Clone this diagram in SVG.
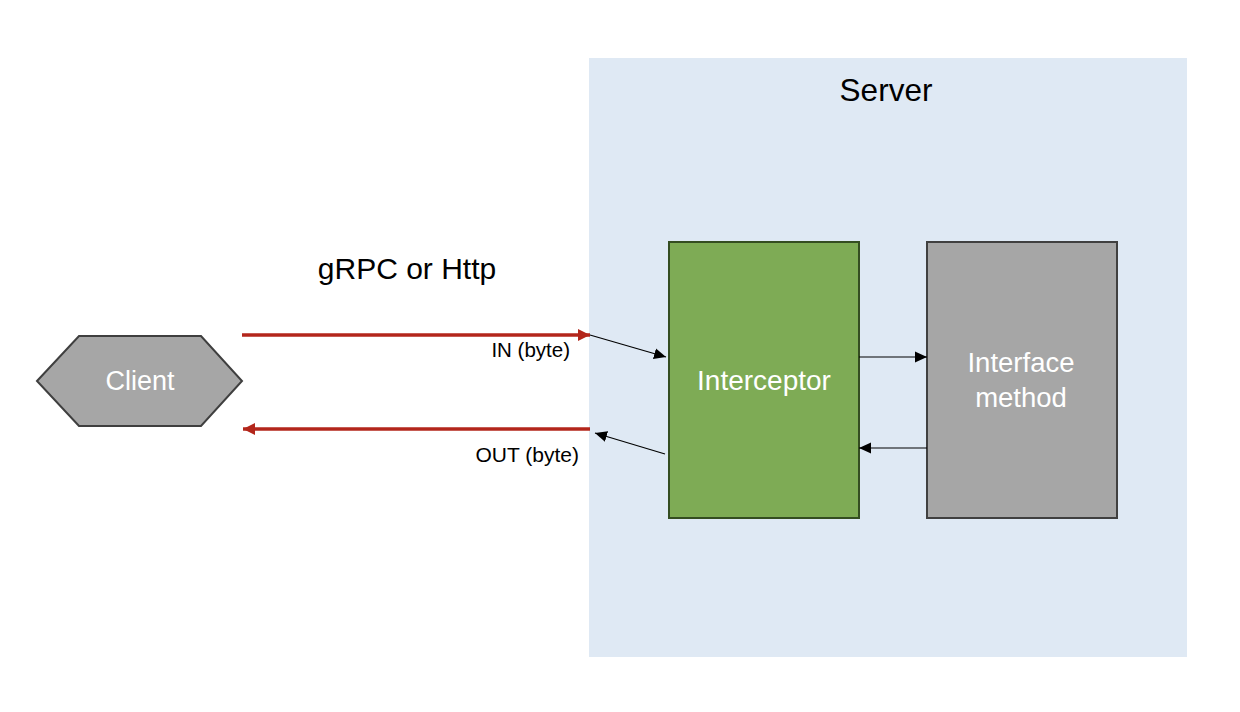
<svg xmlns="http://www.w3.org/2000/svg" width="1240" height="712" viewBox="0 0 1240 712">
<style>
  text { font-family: "Liberation Sans", Arial, sans-serif; }
  .white { fill: #ffffff; }
  .black { fill: #000000; }
  .red { stroke: #b3261b; stroke-width: 3.5; fill: none; }
  .thin { stroke: #000000; stroke-width: 1.2; fill: none; }
</style>
<defs>
  <marker id="redHead" markerUnits="userSpaceOnUse" markerWidth="14" markerHeight="12" refX="12" refY="6" orient="auto">
    <path d="M0,0 L12,6 L0,12 Z" fill="#b3261b"/>
  </marker>
  <marker id="blackHead" markerUnits="userSpaceOnUse" markerWidth="14" markerHeight="12" refX="12" refY="6" orient="auto">
    <path d="M0,0.5 L12,6 L0,11.5 Z" fill="#000000"/>
  </marker>
</defs>
<rect width="1240" height="712" fill="#ffffff"/>

<g id="server">
  <rect x="589" y="58" width="598" height="599" fill="#dfe9f4"/>
  <text x="886" y="101" font-size="31.5" text-anchor="middle" class="black">Server</text>
</g>

<g id="client">
  <polygon points="37,381 79,336 201,336 242,381 201,426 79,426" fill="#a6a6a6" stroke="#3f3f3f" stroke-width="2"/>
  <text x="140" y="390" font-size="27" text-anchor="middle" class="white">Client</text>
</g>

<g id="interceptor">
  <rect x="669" y="242" width="190" height="276" fill="#7eab55" stroke="#344d21" stroke-width="2"/>
  <text x="764" y="390" font-size="28" text-anchor="middle" class="white">Interceptor</text>
</g>

<g id="interface-method">
  <rect x="927" y="242" width="190" height="276" fill="#a6a6a6" stroke="#404040" stroke-width="2"/>
  <text x="1021" y="372" font-size="27.5" text-anchor="middle" class="white">Interface</text>
  <text x="1021" y="407" font-size="27.5" text-anchor="middle" class="white">method</text>
</g>

<g id="labels">
  <text x="407" y="279" font-size="30" text-anchor="middle" class="black">gRPC or Http</text>
  <text x="570" y="357" font-size="20.5" text-anchor="end" class="black">IN (byte)</text>
  <text x="579" y="462" font-size="21" text-anchor="end" class="black">OUT (byte)</text>
</g>

<g id="connectors">
  <line x1="242" y1="335" x2="590" y2="335" class="red" marker-end="url(#redHead)"/>
  <line x1="590" y1="429" x2="243" y2="429" class="red" marker-end="url(#redHead)"/>
  <line x1="590" y1="335" x2="666" y2="357" class="thin" marker-end="url(#blackHead)"/>
  <line x1="665" y1="454" x2="595" y2="433" class="thin" marker-end="url(#blackHead)"/>
  <line x1="859" y1="357" x2="927" y2="357" class="thin" marker-end="url(#blackHead)"/>
  <line x1="927" y1="448" x2="859" y2="448" class="thin" marker-end="url(#blackHead)"/>
</g>
</svg>
